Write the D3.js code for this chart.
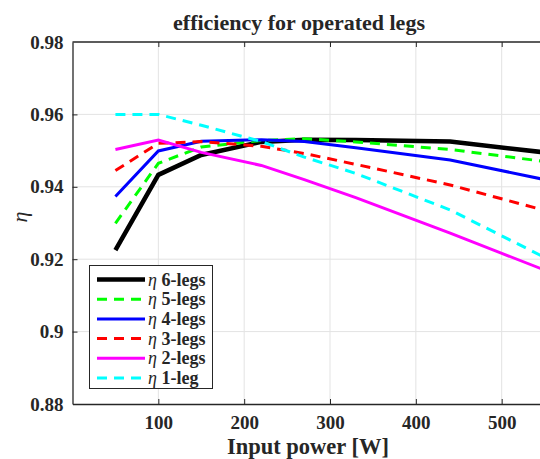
<!DOCTYPE html>
<html lang="en">
<meta charset="UTF-8">
<script src="https://d3js.org/d3.v7.min.js"></script>
<head>
    <title>efficiency for operated legs</title>
    <style>
        body { margin: 0; background-color: white; }
        text { font-family: "Liberation Serif", "Times New Roman", serif; fill: #262626; }
    </style>
</head>
<body>
<div id="my_dataviz"></div>

<script>
    // data
    const power = [50, 100, 150, 220, 270, 330, 440, 550];
    const eta6 = [0.9225, 0.9433, 0.9488, 0.9524, 0.9530, 0.9529, 0.9525, 0.9495];
    const eta5 = [0.9299, 0.9465, 0.9510, 0.9528, 0.9533, 0.9524, 0.9503, 0.9470];
    const eta4 = [0.9373, 0.9499, 0.9526, 0.9530, 0.9525, 0.9508, 0.9474, 0.9420];
    const eta3 = [0.9445, 0.9520, 0.9525, 0.9512, 0.9492, 0.9462, 0.9405, 0.9335];
    const eta2 = [0.9503, 0.9529, 0.9495, 0.9459, 0.9420, 0.9370, 0.9272, 0.9170];
    const eta1 = [0.9600, 0.9600, 0.9570, 0.9525, 0.9482, 0.9437, 0.9336, 0.9205];
    const legNames = ["6-legs", "5-legs", "4-legs", "3-legs", "2-legs", "1-leg"];
    const xTicks = [100, 200, 300, 400, 500];
    const yTicks = [0.88, 0.9, 0.92, 0.94, 0.96, 0.98];

    const series = [
        {name: legNames[0], values: eta6, color: "#000000", width: 4.5, dash: null},
        {name: legNames[1], values: eta5, color: "#00ff00", width: 3, dash: "10,7"},
        {name: legNames[2], values: eta4, color: "#0000ff", width: 3, dash: null},
        {name: legNames[3], values: eta3, color: "#ff0000", width: 3, dash: "10,7"},
        {name: legNames[4], values: eta2, color: "#ff00ff", width: 3, dash: null},
        {name: legNames[5], values: eta1, color: "#00ffff", width: 3, dash: "10,7"}
    ];

    const width = 540, height = 459;
    const mLeft = 72.5, mRight = 544.6, mTop = 42, mBottom = 404;
    const serif = "'Liberation Serif', 'Times New Roman', serif";

    const svg = d3.select("#my_dataviz")
        .append("svg")
        .attr("width", width)
        .attr("height", height);

    const x = d3.scaleLinear().domain([0, 550]).range([mLeft, mRight]);
    const y = d3.scaleLinear().domain([0.88, 0.98]).range([mBottom, mTop]);

    // grid
    svg.append("g").selectAll("line")
        .data(xTicks)
        .join("line")
        .attr("x1", d => x(d)).attr("x2", d => x(d))
        .attr("y1", mTop).attr("y2", mBottom)
        .attr("stroke", "#e3e3e3").attr("stroke-width", 1);
    svg.append("g").selectAll("line")
        .data(yTicks.slice(1, -1))
        .join("line")
        .attr("x1", mLeft).attr("x2", mRight)
        .attr("y1", d => y(d)).attr("y2", d => y(d))
        .attr("stroke", "#e3e3e3").attr("stroke-width", 1);

    // axes (ticks inside like matlab)
    const xAxis = d3.axisBottom(x).tickValues(xTicks).tickSizeInner(-5).tickSizeOuter(0).tickPadding(12);
    const yAxis = d3.axisLeft(y).tickValues(yTicks).tickFormat(d3.format("~g")).tickSizeInner(-5).tickSizeOuter(0).tickPadding(9);

    const gx = svg.append("g").attr("transform", `translate(0,${mBottom})`).call(xAxis);
    const gy = svg.append("g").attr("transform", `translate(${mLeft},0)`).call(yAxis);
    svg.append("g").attr("transform", `translate(0,${mTop})`)
        .call(d3.axisTop(x).tickValues(xTicks).tickSizeInner(-5).tickSizeOuter(0).tickFormat(""))
        .call(g => g.selectAll("line").attr("stroke", "#262626"))
        .call(g => g.select(".domain").remove());

    [gx, gy].forEach(g => {
        g.attr("font-family", serif).attr("font-size", 19).attr("font-weight", "bold");
        g.select(".domain").attr("stroke", "#262626").attr("stroke-width", 1.3);
        g.selectAll(".tick line").attr("stroke", "#262626");
        g.selectAll("text")
            .style("font-family", serif)
            .attr("fill", "#262626");
    });
    gy.selectAll(".tick line").filter(d => d === 0.88 || d === 0.98).remove();
    svg.append("line")
        .attr("x1", mLeft).attr("x2", mRight).attr("y1", mTop).attr("y2", mTop)
        .attr("stroke", "#262626").attr("stroke-width", 1.3);

    // lines
    svg.append("clipPath").attr("id", "plotclip")
        .append("rect").attr("x", mLeft).attr("y", mTop).attr("width", mRight - mLeft).attr("height", mBottom - mTop);

    const line = d3.line()
        .x((d, i) => x(power[i]))
        .y(d => y(d));

    svg.append("g").attr("clip-path", "url(#plotclip)")
        .selectAll("path")
        .data(series)
        .join("path")
        .attr("d", d => line(d.values))
        .attr("fill", "none")
        .attr("stroke", d => d.color)
        .attr("stroke-width", d => d.width)
        .attr("stroke-dasharray", d => d.dash);

    // title and labels
    svg.append("text")
        .attr("x", 299).attr("y", 30)
        .attr("text-anchor", "middle")
        .style("font-size", "22px").style("font-weight", "bold")
        .text("efficiency for operated legs");

    svg.append("text")
        .attr("x", 308).attr("y", 454)
        .attr("text-anchor", "middle")
        .style("font-size", "22.5px").style("font-weight", "bold")
        .text("Input power [W]");

    svg.append("text")
        .attr("transform", "translate(27,217) rotate(-90)")
        .attr("text-anchor", "middle")
        .style("font-size", "22px").style("font-style", "italic")
        .text("η");

    // legend
    const legend = svg.append("g");
    legend.append("rect")
        .attr("x", 89.5).attr("y", 265.5).attr("width", 123).attr("height", 123)
        .attr("fill", "white").attr("stroke", "#262626").attr("stroke-width", 1);

    const rows = legend.selectAll("g.row")
        .data(series)
        .join("g")
        .attr("class", "row")
        .attr("transform", (d, i) => `translate(0,${279.5 + i * 19.7})`);

    rows.append("line")
        .attr("x1", 97).attr("x2", 145)
        .attr("stroke", d => d.color)
        .attr("stroke-width", d => d.width)
        .attr("stroke-dasharray", d => d.dash);

    const lt = rows.append("text")
        .attr("x", 148).attr("y", 6)
        .style("font-size", "18px");
    lt.append("tspan").style("font-style", "italic").text("η ");
    lt.append("tspan").style("font-weight", "bold").text(d => d.name);
</script>
</body>
</html>
